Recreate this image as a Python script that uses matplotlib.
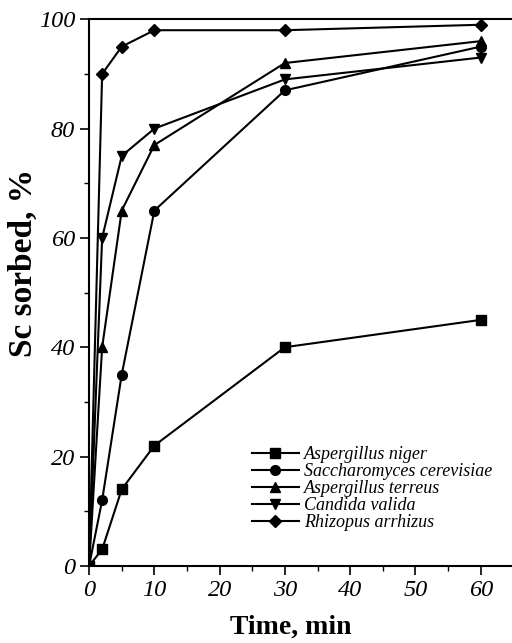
import matplotlib
matplotlib.use("Agg")
import matplotlib.pyplot as plt
from matplotlib.ticker import MultipleLocator

# Time points (min)
time = [0, 2, 5, 10, 30, 60]

# Sc sorbed, % for each organism
niger = [0, 3, 14, 22, 40, 45]
cerevisiae = [0, 12, 35, 65, 87, 95]
terreus = [0, 40, 65, 77, 92, 96]
valida = [0, 60, 75, 80, 89, 93]
arrhizus = [0, 90, 95, 98, 98, 99]

labels = ['Aspergillus niger', 'Saccharomyces cerevisiae', 'Aspergillus terreus',
          'Candida valida', 'Rhizopus arrhizus']
series = [niger, cerevisiae, terreus, valida, arrhizus]
markers = ['s', 'o', '^', 'v', 'D']

plt.rcParams['font.family'] = ['Liberation Serif', 'DejaVu Serif']

fig = plt.figure(figsize=(5.12, 6.43), dpi=100)
ax = fig.add_axes([0.174, 0.12, 0.826, 0.85])

for y, m, lab in zip(series, markers, labels):
    ms = 6.5 if m == 'D' else 7
    ax.plot(time, y, color='black', lw=1.5, marker=m, markersize=ms, label=lab)

ax.set_xlim(0, 64.8)
ax.set_ylim(0, 100)
ax.xaxis.set_major_locator(MultipleLocator(10))
ax.xaxis.set_minor_locator(MultipleLocator(5))
ax.yaxis.set_major_locator(MultipleLocator(20))
ax.yaxis.set_minor_locator(MultipleLocator(10))
ax.spines['right'].set_visible(False)
for s in ['left', 'top', 'bottom']:
    ax.spines[s].set_linewidth(1.5)
ax.tick_params(which='major', direction='out', length=6.5, width=1.2, labelsize=17.5)
ax.tick_params(which='minor', direction='out', length=3.5, width=1.0)
for t in ax.get_xticklabels() + ax.get_yticklabels():
    t.set_fontstyle('italic')

ax.set_xlabel('Time, min', fontsize=20, fontweight='bold')
ax.set_ylabel('Sc sorbed, %', fontsize=24, fontweight='bold')
ax.xaxis.set_label_coords(0.478, -0.09)
ax.yaxis.set_label_coords(-0.118, 0.554)

leg = ax.legend(loc='lower left', bbox_to_anchor=(0.385, 0.063), frameon=False,
                prop={'style': 'italic', 'size': 13}, handlelength=2.6,
                labelspacing=0.0, handletextpad=0.3, borderpad=0, borderaxespad=0)

fig.savefig('out.png', dpi=100)
